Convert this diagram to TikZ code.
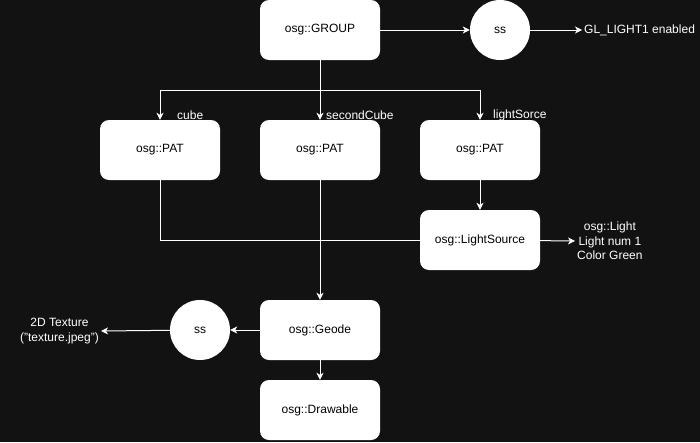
\documentclass[tikz,border=0pt]{standalone}
\usepackage{fontspec}
\setmainfont{Liberation Sans}
\usetikzlibrary{arrows.meta}
\definecolor{bgdark}{RGB}{18,18,18}
\begin{document}
\begin{tikzpicture}[x=1pt,y=-1pt,
  every node/.style={font=\fontsize{12}{14.4}\selectfont},
  box/.style={rectangle, rounded corners=9pt, fill=white, text=black,
    minimum width=120pt, minimum height=60pt, inner sep=0pt},
  ssnode/.style={circle, fill=white, text=black, minimum size=60pt, inner sep=0pt},
  txt/.style={text=white, align=center, inner sep=0pt, inner xsep=2pt},
  lbl/.style={text=white, inner sep=0pt, anchor=west},
  wire/.style={draw=white, line width=1pt},
  arr/.style={wire, -{Stealth[length=7pt,width=7pt,inset=2pt]}}]
  % canvas
  \fill[bgdark] (0,0) rectangle (700,442);
  \useasboundingbox (0,0) rectangle (700,442);

  % nodes
  \node[box] (group) at (320,30) {osg::GROUP};
  \node[ssnode] (ssA) at (500,30) {ss};
  \node[txt, anchor=west] (gl) at (582,30) {GL\_LIGHT1 enabled};

  \node[box] (pat1) at (160,150) {osg::PAT};
  \node[box] (pat2) at (320,150) {osg::PAT};
  \node[box] (pat3) at (480,150) {osg::PAT};

  \node[box] (ls) at (480,240) {osg::LightSource};
  \node[txt, anchor=west] (light) at (575,241) {osg::Light\\Light num 1\\Color Green};

  \node[box] (geode) at (320,330) {osg::Geode};
  \node[ssnode] (ssB) at (200,330) {ss};
  \node[txt, anchor=east] (tex) at (101,331) {2D Texture\\("texture.jpeg")};

  \node[box] (draw) at (320,410) {osg::Drawable};

  \coordinate (split) at (320,90);

  % connectors
  \draw[arr] (group) -- (ssA);
  \draw[arr] (ssA) -- (gl.west);

  \draw[arr] (group.south) -- (split) -| (pat1.north);
  \draw[arr] (group.south) -- (pat2.north);
  \draw[arr] (group.south) -- (split) -| (pat3.north);

  \draw[arr] (pat3) -- (ls);
  \draw[wire] (pat1.south) |- (ls.west);
  \draw[arr] (ls) -- (light.west);

  \draw[arr] (pat2) -- (geode);
  \draw[arr] (geode) -- (ssB);
  \draw[arr] (ssB) -- (tex.east);
  \draw[arr] (geode) -- (draw);

  % edge labels
  \node[lbl] (lcube) at (177,115) {cube};
  \node[lbl] (lsecond) at (326,115) {secondCube};
  \node[lbl] (llight) at (493,115) {lightSorce};
\end{tikzpicture}
\end{document}
